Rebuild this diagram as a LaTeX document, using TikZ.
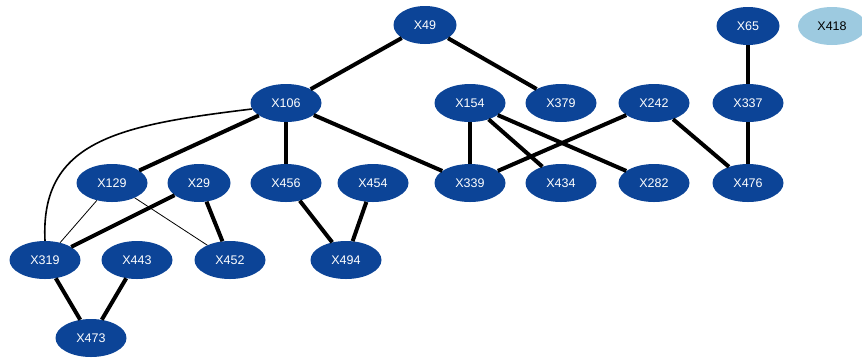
\documentclass[tikz,border=0pt]{standalone}
\usepackage{fontspec}
\setmainfont{Liberation Sans}
\usetikzlibrary{shapes.geometric}
\begin{document}
\begin{tikzpicture}[x=1pt,y=-1pt,
  nd/.style={ellipse,fill=dblue,text=white,minimum width=71pt,minimum height=38pt,inner sep=0pt,font=\fontsize{12.5}{13}\selectfont},
  nds/.style={nd,minimum width=63pt},
  lt/.style={nd,fill=lblue,text=black},
  tk/.style={line width=4pt},
  tn/.style={line width=0.8pt}]
\definecolor{dblue}{HTML}{0C4497}
\definecolor{lblue}{HTML}{9DCAE0}
\useasboundingbox (0,0) rectangle (862,360);
\node[nds] (X49) at (425,25) {X49};
\node[nds] (X65) at (748,26) {X65};
\node[lt,minimum width=68pt] (X418) at (832,26) {X418};
\node[nd] (X106) at (286,103) {X106};
\node[nd] (X154) at (470,103) {X154};
\node[nd] (X379) at (561,103) {X379};
\node[nd] (X242) at (654,103) {X242};
\node[nd] (X337) at (748,103) {X337};
\node[nd] (X129) at (112,183) {X129};
\node[nds] (X29) at (199,183) {X29};
\node[nd] (X456) at (286,183) {X456};
\node[nd] (X454) at (373,183) {X454};
\node[nd] (X339) at (470,183) {X339};
\node[nd] (X434) at (561,183) {X434};
\node[nd] (X282) at (654,183) {X282};
\node[nd] (X476) at (748,183) {X476};
\node[nd] (X319) at (45,260) {X319};
\node[nd] (X443) at (137,260) {X443};
\node[nd] (X452) at (230,260) {X452};
\node[nd] (X494) at (346,260) {X494};
\node[nd] (X473) at (91,338) {X473};
\draw[tk] (X49) -- (X106);
\draw[tk] (X49) -- (X379);
\draw[tk] (X65) -- (X337);
\draw[tk] (X106) -- (X129);
\draw[tk] (X106) -- (X456);
\draw[tk] (X106) -- (X339);
\draw[line width=1.6pt] (X106.190) .. controls (120,125) and (40,140) .. (X319.north);
\draw[tk] (X154) -- (X339);
\draw[tk] (X154) -- (X434);
\draw[tk] (X154) -- (X282);
\draw[tk] (X242) -- (X339);
\draw[tk] (X242) -- (X476);
\draw[tk] (X337) -- (X476);
\draw[tn] (X129) -- (X319);
\draw[tn] (X129) -- (X452);
\draw[tk] (X29) -- (X319);
\draw[tk] (X29) -- (X452);
\draw[tk] (X456) -- (X494);
\draw[tk] (X454) -- (X494);
\draw[tk] (X319) -- (X473);
\draw[tk] (X443) -- (X473);
\end{tikzpicture}
\end{document}
